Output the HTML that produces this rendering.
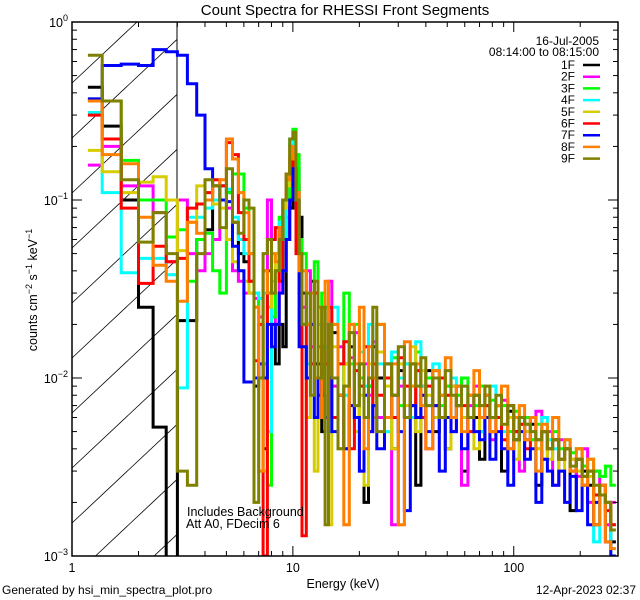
<!DOCTYPE html>
<html><head><meta charset="utf-8"><style>
html,body{margin:0;padding:0;background:#fff;width:640px;height:600px;overflow:hidden;}
svg{display:block;font-family:"Liberation Sans",sans-serif;}
</style></head><body>
<svg id="chart" width="640" height="600" viewBox="0 0 640 600" xmlns="http://www.w3.org/2000/svg">
<defs><clipPath id="plotclip"><rect x="72" y="22" width="546" height="534"/></clipPath>
<clipPath id="hatchclip"><rect x="72" y="22" width="105" height="534"/></clipPath></defs>
<rect width="640" height="600" fill="#fff"/>
<text x="345" y="15" text-anchor="middle" font-size="15">Count Spectra for RHESSI Front Segments</text>
<g id="hatch" clip-path="url(#hatchclip)"></g>
<line x1="177" y1="22" x2="177" y2="556" stroke="#000" stroke-width="1"/>
<g id="series" clip-path="url(#plotclip)"></g>
<rect x="72" y="22" width="546" height="534" fill="none" stroke="#000" stroke-width="1.5"/>
<g id="axes"></g>
<text x="187" y="516" font-size="12.5">Includes Background</text>
<text x="186" y="528" font-size="12.5">Att A0, FDecim 6</text>
<text x="343" y="588" text-anchor="middle" font-size="12.5">Energy (keV)</text>
<text transform="translate(37,290) rotate(-90)" text-anchor="middle" font-size="12.5">counts cm<tspan dy="-5" font-size="9">−2</tspan><tspan dy="5"> s</tspan><tspan dy="-5" font-size="9">−1</tspan><tspan dy="5"> keV</tspan><tspan dy="-5" font-size="9">−1</tspan></text>
<text x="2" y="594" font-size="12">Generated by hsi_min_spectra_plot.pro</text>
<text x="636" y="594" text-anchor="end" font-size="12">12-Apr-2023 02:37</text>
<text x="599" y="45" text-anchor="end" font-size="12">16-Jul-2005</text>
<text x="599" y="56" text-anchor="end" font-size="12">08:14:00 to 08:15:00</text>
<g id="legend"></g>
</svg>
<script>
const energyEdges=[1.18,1.37,1.67,2,2.33,2.67,3,3.33,3.67,4,4.33,4.67,5,5.33,5.67,6,6.33,6.67,7,7.33,7.67,8,8.33,8.67,9,9.33,9.67,10,10.33,10.67,
11,11.5,12,12.5,13,13.5,14,14.5,15,16,17,18,19,20,21,22,23,24,26,28,30,32,34,36,38,40,43,46,49,52,55,58,62,66,70,74,78,83,88,94,100,106,112,119,126,134,142,150,160,170,180,192,204,216,230,245,260,275,290];
const seriesNames=["1F","2F","3F","4F","5F","6F","7F","8F","9F"];
const seriesColors=["#000000","#ff00ff","#00ff00","#00ffff","#d6cc00","#ff0000","#0000ff","#ff7f00","#7f7f00"];
const s1F=[0.43,0.26,0.10,0.025,0.0053,0.0005,0.021,0.021,0.06,0.068,0.12,0.12,0.11,0.075,0.05,0.045,0.035,0.009,0.012,0.004,0.03,0.02,0.012,0.02,0.015,0.06,0.09,0.2,0.15,0.08,
0.03,0.02,0.035,0.012,0.015,0.005,0.025,0.01,0.018,0.008,0.012,0.015,0.006,0.012,0.002,0.009,0.015,0.01,0.012,0.004,0.011,0.006,0.012,0.0025,0.009,0.011,0.005,0.008,0.004,0.009,0.007,0.003,0.008,0.006,0.0035,0.008,0.006,0.007,0.003,0.0065,0.005,0.006,0.0045,0.0055,0.0025,0.005,0.004,0.0045,0.0035,0.004,0.0018,0.0035,0.003,0.0025,0.0015,0.0025,0.002,0.0012];
const s2F=[0.157,0.2,0.12,0.12,0.085,0.045,0.1,0.05,0.04,0.05,0.06,0.1,0.09,0.04,0.035,0.03,0.03,0.028,0.022,0.04,0.1,0.03,0.02,0.07,0.05,0.08,0.12,0.2,0.12,0.05,
0.025,0.04,0.015,0.03,0.008,0.02,0.012,0.035,0.009,0.015,0.004,0.013,0.018,0.003,0.012,0.008,0.016,0.006,0.01,0.0015,0.009,0.012,0.007,0.011,0.008,0.004,0.01,0.006,0.009,0.005,0.008,0.0025,0.007,0.009,0.005,0.007,0.0045,0.006,0.0075,0.004,0.006,0.003,0.0055,0.0045,0.0065,0.0035,0.005,0.0025,0.0045,0.004,0.0035,0.0028,0.004,0.002,0.003,0.0025,0.0015,0.002];
const s3F=[0.37,0.36,0.167,0.1,0.1,0.062,0.068,0.035,0.06,0.065,0.04,0.03,0.11,0.14,0.14,0.09,0.05,0.03,0.02,0.012,0.0025,0.022,0.04,0.08,0.06,0.1,0.15,0.25,0.18,0.06,
0.05,0.03,0.02,0.045,0.015,0.03,0.025,0.012,0.02,0.008,0.03,0.012,0.02,0.01,0.015,0.009,0.012,0.02,0.01,0.013,0.007,0.012,0.009,0.014,0.007,0.01,0.011,0.007,0.009,0.006,0.008,0.01,0.006,0.007,0.009,0.006,0.0075,0.006,0.007,0.005,0.0065,0.0055,0.006,0.0045,0.0055,0.005,0.0045,0.005,0.004,0.0045,0.0038,0.004,0.0032,0.0035,0.003,0.0028,0.0032,0.0025];
const s4F=[0.31,0.11,0.039,0.047,0.047,0.038,0.0088,0.08,0.08,0.09,0.1,0.12,0.115,0.08,0.06,0.05,0.035,0.03,0.028,0.03,0.005,0.035,0.04,0.075,0.04,0.12,0.22,0.19,0.07,0.03,
0.02,0.012,0.03,0.006,0.02,0.01,0.015,0.005,0.025,0.012,0.008,0.018,0.006,0.014,0.009,0.02,0.007,0.012,0.005,0.014,0.01,0.012,0.006,0.016,0.009,0.007,0.012,0.008,0.006,0.01,0.007,0.009,0.006,0.008,0.005,0.007,0.009,0.006,0.005,0.007,0.0045,0.006,0.0055,0.005,0.004,0.006,0.0045,0.004,0.0035,0.0045,0.003,0.0035,0.0025,0.003,0.0012,0.0025,0.0018,0.001];
const s5F=[0.19,0.144,0.11,0.126,0.135,0.1,0.052,0.075,0.12,0.11,0.095,0.09,0.06,0.045,0.04,0.035,0.03,0.025,0.02,0.003,0.025,0.03,0.05,0.04,0.09,0.12,0.15,0.1,0.05,0.02,
0.015,0.006,0.02,0.003,0.012,0.018,0.006,0.0015,0.015,0.004,0.012,0.02,0.005,0.008,0.0025,0.012,0.006,0.014,0.009,0.004,0.012,0.007,0.015,0.005,0.011,0.008,0.006,0.01,0.004,0.009,0.007,0.006,0.008,0.004,0.007,0.009,0.005,0.007,0.0045,0.006,0.0035,0.0055,0.005,0.006,0.004,0.005,0.0035,0.0045,0.003,0.004,0.0035,0.003,0.0025,0.0028,0.002,0.0025,0.002,0.0015];
const s6F=[0.30,0.22,0.09,0.034,0.055,0.045,0.047,0.09,0.095,0.11,0.13,0.12,0.21,0.18,0.085,0.06,0.035,0.0125,0.02,0.001,0.04,0.06,0.07,0.035,0.1,0.14,0.17,0.12,0.05,0.03,
0.0013,0.02,0.012,0.03,0.008,0.015,0.012,0.025,0.006,0.012,0.016,0.004,0.011,0.009,0.015,0.005,0.012,0.008,0.01,0.006,0.013,0.009,0.007,0.011,0.006,0.009,0.007,0.01,0.008,0.006,0.009,0.007,0.005,0.008,0.006,0.007,0.005,0.006,0.0045,0.007,0.005,0.0055,0.004,0.006,0.0045,0.005,0.004,0.0045,0.0035,0.004,0.003,0.0035,0.0028,0.003,0.0022,0.0025,0.0018,0.0015];
const s7F=[0.37,0.57,0.58,0.57,0.7,0.68,0.65,0.45,0.3,0.15,0.12,0.1,0.098,0.055,0.04,0.0095,0.0095,0.01,0.012,0.01,0.02,0.015,0.02,0.03,0.04,0.06,0.1,0.15,0.1,0.015,
0.015,0.01,0.02,0.006,0.012,0.008,0.006,0.01,0.005,0.008,0.004,0.007,0.006,0.003,0.008,0.005,0.007,0.004,0.006,0.008,0.005,0.0018,0.007,0.006,0.008,0.005,0.007,0.003,0.006,0.005,0.007,0.004,0.006,0.005,0.0045,0.006,0.0035,0.005,0.004,0.0025,0.0045,0.005,0.0035,0.004,0.002,0.0035,0.003,0.0025,0.003,0.002,0.0028,0.0018,0.0025,0.0015,0.002,0.0022,0.0012,0.001];
const s8F=[0.36,0.18,0.16,0.08,0.043,0.035,0.027,0.075,0.065,0.1,0.12,0.13,0.22,0.17,0.11,0.085,0.05,0.025,0.003,0.04,0.03,0.05,0.045,0.07,0.1,0.13,0.2,0.17,0.11,0.04,
0.04,0.02,0.03,0.01,0.025,0.006,0.035,0.015,0.02,0.008,0.0015,0.02,0.012,0.025,0.004,0.015,0.01,0.02,0.006,0.012,0.0015,0.016,0.009,0.012,0.007,0.004,0.011,0.008,0.013,0.006,0.009,0.005,0.008,0.011,0.006,0.008,0.005,0.007,0.009,0.004,0.006,0.007,0.0045,0.006,0.003,0.0055,0.004,0.006,0.0035,0.0045,0.003,0.004,0.0025,0.0035,0.0015,0.0025,0.0012,0.0011];
const s9F=[0.65,0.36,0.13,0.058,0.085,0.05,0.003,0.0025,0.05,0.13,0.12,0.07,0.15,0.075,0.065,0.1,0.09,0.002,0.01,0.05,0.06,0.03,0.04,0.06,0.1,0.14,0.22,0.24,0.1,0.05,
0.02,0.03,0.008,0.035,0.01,0.025,0.0015,0.02,0.01,0.004,0.009,0.018,0.007,0.012,0.006,0.01,0.025,0.005,0.012,0.008,0.015,0.006,0.012,0.009,0.013,0.007,0.01,0.006,0.011,0.008,0.007,0.009,0.006,0.008,0.007,0.009,0.006,0.008,0.0055,0.007,0.0045,0.006,0.0055,0.005,0.0045,0.005,0.004,0.0045,0.0035,0.004,0.0032,0.0035,0.0028,0.003,0.0025,0.0022,0.002,0.0014];
const seriesValues=[s1F,s2F,s3F,s4F,s5F,s6F,s7F,s8F,s9F];
const yTickExponents=["0","−1","−2","−3"];
const xTickLabels=["1","10","100"];

const NS="http://www.w3.org/2000/svg";
const X0=72,X1=618,Y0=22,Y1=556;
const xMin=0,xMax=Math.log10(296.5);
const yMin=-3,yMax=0;
function xs(e){return X0+(Math.log10(e)-xMin)/(xMax-xMin)*(X1-X0);}
function ys(v){const l=Math.max(Math.log10(Math.max(v,1e-4)),-3.03);return Y1-(l-yMin)/(yMax-yMin)*(Y1-Y0);}
function mk(tag,attrs,parent){const el=document.createElementNS(NS,tag);for(const k in attrs)el.setAttribute(k,attrs[k]);parent.appendChild(el);return el;}

const hatch=document.getElementById('hatch');
const slope=61/65;
for(let k=0;k<14;k++){
  const yb=83+55*k;
  let xa=72,ya=yb,xb=177,yb2=yb-(177-72)*slope;
  if(ya>556){xa=72+(ya-556)/slope;ya=556;}
  if(yb2<22){xb=72+(yb-22)/slope;yb2=22;}
  if(xa>=xb)continue;
  const ln=mk('line',{x1:xa,y1:ya,x2:xb,y2:yb2,stroke:'#000','stroke-width':0.8},hatch);
  
  
}

const sg=document.getElementById('series');
seriesValues.forEach((vals,si)=>{
  let d='';
  const n=Math.min(vals.length,energyEdges.length-1);
  for(let i=0;i<n;i++){
    const xa=xs(energyEdges[i]).toFixed(1),xb=xs(energyEdges[i+1]).toFixed(1),y=ys(vals[i]).toFixed(1);
    d+=(i===0?'M':'L')+xa+','+y+'L'+xb+','+y;
  }
  const p=mk('path',{d:d,fill:'none',stroke:seriesColors[si],'stroke-width':3,'stroke-linejoin':'miter'},sg);
  
  
});

const ax=document.getElementById('axes');
for(let dec=0;dec<3;dec++){
  for(let m=1;m<10;m++){
    const e=m*Math.pow(10,dec); if(e>296.5)break;
    const x=xs(e); const L=m===1?10:5;
    const t1=mk('line',{x1:x,y1:Y1,x2:x,y2:Y1-L,stroke:'#000','stroke-width':1},ax);
    
    
    const t2=mk('line',{x1:x,y1:Y0,x2:x,y2:Y0+L,stroke:'#000','stroke-width':1},ax);
    
    
  }
}
xTickLabels.forEach((lab,i)=>{
  const t=mk('text',{x:xs(Math.pow(10,i)),y:Y1+16,'text-anchor':'middle','font-size':12.5},ax);
  t.textContent=lab;
  
  
});
for(let dec=-3;dec<=0;dec++){
  for(let m=1;m<10;m++){
    const v=m*Math.pow(10,dec); if(v>1)break;
    const y=ys(v); const L=m===1?10:5;
    const t1=mk('line',{x1:X0,y1:y,x2:X0+L,y2:y,stroke:'#000','stroke-width':1},ax);
    
    
    const t2=mk('line',{x1:X1,y1:y,x2:X1-L,y2:y,stroke:'#000','stroke-width':1},ax);
    
    
  }
}
yTickExponents.forEach((ex,i)=>{
  const y=ys(Math.pow(10,-i));
  const t=mk('text',{x:X0-4,y:y+5,'text-anchor':'end','font-size':12.5},ax);
  
  
  const a=document.createElementNS(NS,'tspan');a.textContent='10';t.appendChild(a);
  const b=document.createElementNS(NS,'tspan');b.setAttribute('dy','-6');b.setAttribute('font-size','9');b.textContent=ex;t.appendChild(b);
});

const lg=document.getElementById('legend');
seriesNames.forEach((n,i)=>{
  const y=65+i*11.7;
  const t=mk('text',{x:575,y:y+4,'text-anchor':'end','font-size':12},lg);
  t.textContent=n;
  
  
  const l=mk('line',{x1:583,y1:y,x2:600,y2:y,stroke:seriesColors[i],'stroke-width':2.5},lg);
  
  
});
</script>
</body></html>
